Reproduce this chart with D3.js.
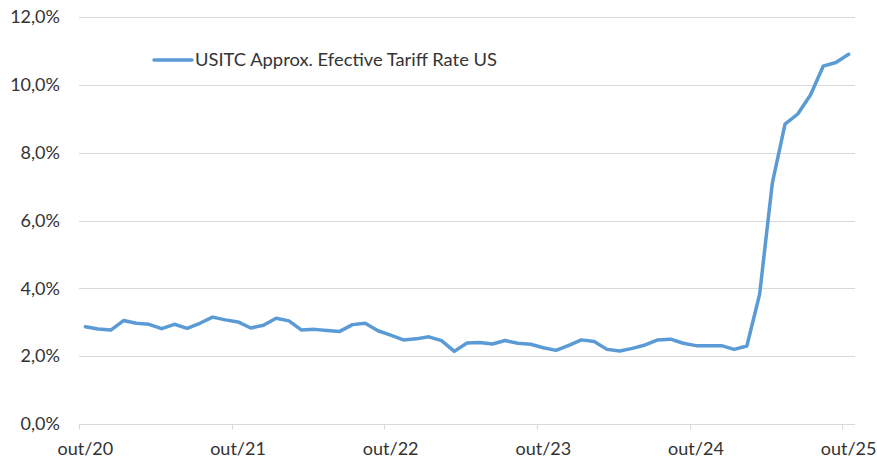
<!DOCTYPE html>
<html>
<head>
<meta charset="utf-8">
<script src="https://cdn.jsdelivr.net/npm/d3@7"></script>
<style>
  body { margin: 0; background: #fff; }
  text { font-family: Lato, "Open Sans", sans-serif; fill: #333; }
</style>
</head>
<body>
<script>
"use strict";

// monthly values, out/20 .. out/25 (in %)
var tariffRate = [
  2.87, 2.80, 2.77, 3.05, 2.97, 2.94, 2.81, 2.94, 2.82, 2.97, 3.15, 3.07,
  3.01, 2.83, 2.91, 3.12, 3.04, 2.77, 2.79, 2.76, 2.73, 2.93, 2.97, 2.75,
  2.62, 2.48, 2.51, 2.57, 2.46, 2.14, 2.39, 2.40, 2.36, 2.46, 2.38, 2.35,
  2.25, 2.17, 2.32, 2.48, 2.43, 2.20, 2.15, 2.23, 2.33, 2.48, 2.50, 2.38,
  2.31, 2.31, 2.31, 2.20, 2.30, 3.82, 7.10, 8.84, 9.14, 9.70, 10.55, 10.66,
  10.90
];
var xTickLabels = ["out/20", "out/21", "out/22", "out/23", "out/24", "out/25"];
var yTicks = [0, 2, 4, 6, 8, 10, 12];
var seriesName = "USITC Approx. Efective Tariff Rate US";

var width = 877;
var height = 459;

var margin = {
	top: 17,
	left: 79,
	right: 22,
	bottom: 35
};

var svg = d3.select("body").append("svg")
	.attr("width", width)
	.attr("height", height);

var xScale = d3.scaleBand()
	.domain(d3.range(tariffRate.length))
	.range([margin.left, width - margin.right])
	.padding(0);

var yScale = d3.scaleLinear()
	.domain([0, 12])
	.range([height - margin.bottom, margin.top]);

// gridlines
svg.append("g")
	.attr("class", "grid")
	.selectAll("line")
	.data(yTicks)
	.enter()
	.append("line")
	.attr("x1", margin.left)
	.attr("x2", width - margin.right)
	.attr("y1", function(d) { return Math.round(yScale(d)) + 0.5; })
	.attr("y2", function(d) { return Math.round(yScale(d)) + 0.5; })
	.attr("stroke", "#d9d9d9")
	.attr("stroke-width", 1.2);

// y labels
svg.append("g")
	.selectAll("text")
	.data(yTicks)
	.enter()
	.append("text")
	.attr("x", margin.left - 19)
	.attr("y", function(d) { return yScale(d); })
	.attr("dy", "0.35em")
	.style("text-anchor", "end")
	.style("font-size", "18px")
	.text(function(d) { return d3.format(".1f")(d).replace(".", ",") + "%"; });

// x ticks, every 12 months
var tickIdx = xTickLabels.map(function(d, i) { return i * 12; });
var y0 = Math.round(yScale(0)) + 0.5;

svg.append("g")
	.selectAll("line")
	.data(tickIdx)
	.enter()
	.append("line")
	.attr("x1", function(d) { return Math.round(xScale(d)) + 0.5; })
	.attr("x2", function(d) { return Math.round(xScale(d)) + 0.5; })
	.attr("y1", y0)
	.attr("y2", y0 + 5)
	.attr("stroke", "#d9d9d9")
	.attr("stroke-width", 1.2);

svg.append("g")
	.selectAll("text")
	.data(tickIdx)
	.enter()
	.append("text")
	.attr("x", function(d) { return xScale(d) + xScale.bandwidth() / 2; })
	.attr("y", y0 + 30)
	.style("text-anchor", "middle")
	.style("font-size", "18px")
	.text(function(d, i) { return xTickLabels[i]; });

// the series
var line = d3.line()
	.x(function(d, i) { return xScale(i) + xScale.bandwidth() / 2; })
	.y(function(d) { return yScale(d); });

svg.append("path")
	.datum(tariffRate)
	.attr("fill", "none")
	.attr("stroke", "#5b9bd5")
	.attr("stroke-width", 3.5)
	.attr("stroke-linejoin", "round")
	.attr("stroke-linecap", "round")
	.attr("d", line);

// legend
var legend = svg.append("g")
	.attr("transform", "translate(154,60)");

legend.append("line")
	.attr("x1", 0)
	.attr("x2", 38)
	.attr("stroke", "#5b9bd5")
	.attr("stroke-width", 3.5)
	.attr("stroke-linecap", "round");

legend.append("text")
	.attr("x", 41)
	.attr("dy", "0.35em")
	.style("font-size", "18px")
	.attr("textLength", 302)
	.attr("lengthAdjust", "spacingAndGlyphs")
	.text(seriesName);
</script>
</body>
</html>
